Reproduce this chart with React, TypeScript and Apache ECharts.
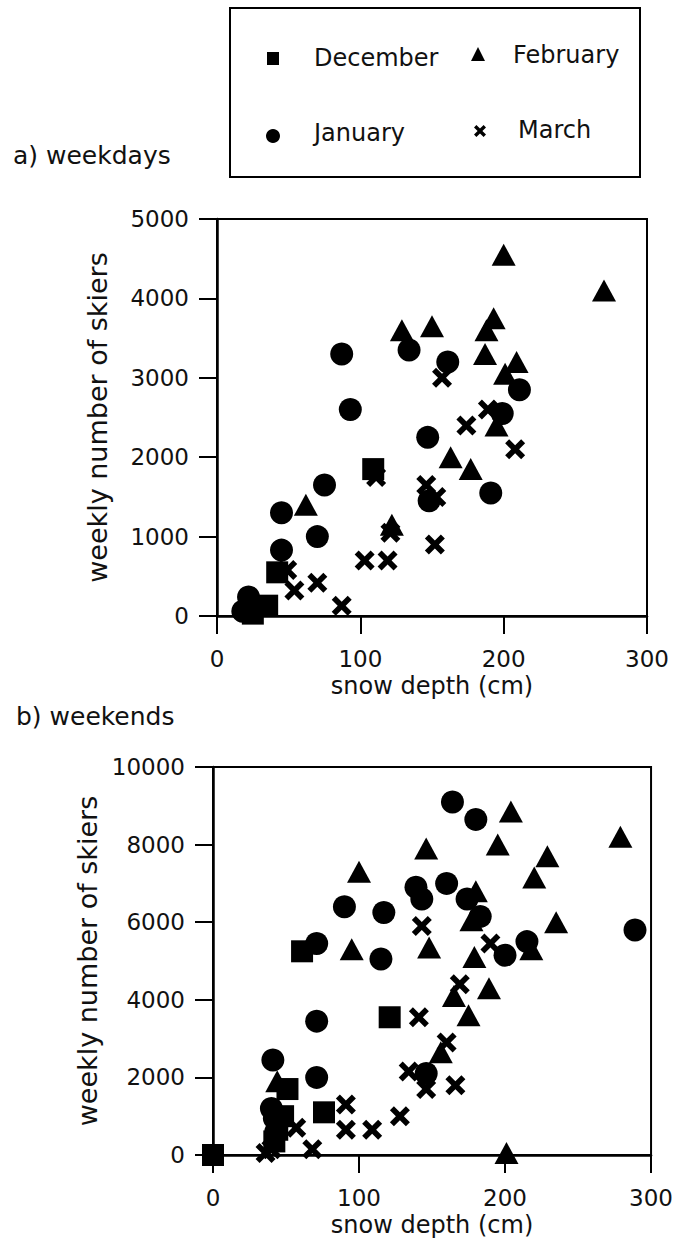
import React, { useEffect, useRef } from "react";
import * as echarts from "echarts";

// ---- tick labels / categories ----
const xTicks = [0, 100, 200, 300];
const weekdayTicks = [0, 1000, 2000, 3000, 4000, 5000];
const weekendTicks = [0, 2000, 4000, 6000, 8000, 10000];
const months = ["December", "January", "February", "March"];

// ---- a) weekdays: [snow depth (cm), weekly number of skiers] ----
const decWeekdays = [[25, 30], [35, 130], [42, 550], [109, 1850]];
const janWeekdays = [
  [18, 60], [22, 240], [45, 830], [45, 1300], [70, 1000], [75, 1650], [87, 3300],
  [93, 2600], [134, 3350], [147, 2250], [148, 1450], [161, 3200], [191, 1550],
  [199, 2550], [211, 2850],
];
const febWeekdays = [
  [62, 1400], [122, 1150], [129, 3600], [150, 3650], [188, 3600], [193, 3750],
  [187, 3300], [209, 3200], [201, 3050], [195, 2400], [163, 2000], [177, 1850],
  [200, 4550], [270, 4100],
];
const marWeekdays = [
  [49, 580], [54, 320], [70, 420], [87, 130], [111, 1750], [103, 700], [119, 700],
  [121, 1050], [157, 3000], [189, 2600], [174, 2400], [208, 2100], [146, 1650],
  [153, 1500], [152, 900],
];

// ---- b) weekends ----
const decWeekends = [[0, 0], [42, 350], [44, 650], [48, 1000], [51, 1700], [76, 1100], [121, 3550], [61, 5250]];
const janWeekends = [
  [41, 2450], [40, 1200], [42, 950], [43, 600], [71, 2000], [71, 3450], [71, 5450],
  [90, 6400], [117, 6250], [115, 5050], [139, 6900], [143, 6600], [146, 2100],
  [160, 7000], [164, 9100], [180, 8650], [174, 6600], [183, 6150], [215, 5500],
  [200, 5150], [289, 5800],
];
const febWeekends = [
  [44, 1900], [95, 5300], [100, 7300], [146, 7900], [148, 5350], [156, 2650],
  [165, 4100], [175, 3600], [189, 4300], [179, 5100], [177, 6050], [180, 6800],
  [195, 8000], [204, 8850], [220, 7150], [229, 7700], [218, 5300], [235, 6000],
  [279, 8200], [201, 50],
];
const marWeekends = [
  [36, 50], [40, 150], [57, 700], [68, 150], [91, 1300], [91, 650], [109, 650],
  [128, 1000], [134, 2150], [146, 1700], [166, 1800], [160, 2900], [141, 3550],
  [143, 5900], [190, 5450], [169, 4400],
];

const FONT = "DejaVu Sans";
const INK = "#111";
const CROSS = "path://M20,0L50,30L80,0L100,20L70,50L100,80L80,100L50,70L20,100L0,80L30,50L0,20Z";

const symbols: Record<string, { symbol: string; size: number | number[] }> = {
  December: { symbol: "rect", size: 22 },
  January: { symbol: "circle", size: 23 },
  February: { symbol: "triangle", size: [24, 22] },
  March: { symbol: CROSS, size: 20 },
};

function crossPoints(cx: number, cy: number, s: number): number[][] {
  const t = [[20, 0], [50, 30], [80, 0], [100, 20], [70, 50], [100, 80], [80, 100], [50, 70], [20, 100], [0, 80], [30, 50], [0, 20]];
  return t.map(([x, y]) => [cx - s / 2 + (x / 100) * s, cy - s / 2 + (y / 100) * s]);
}

export default function App() {
  const ref = useRef<HTMLDivElement>(null);
  useEffect(() => {
    if (!ref.current) return;
    const chart = echarts.init(ref.current, undefined, { renderer: "svg" });

    const labelStyle = { fontFamily: FONT, fontSize: 23, color: INK, formatter: (v: number) => String(v) };
    const nameStyle = { fontFamily: FONT, fontSize: 24, color: INK };
    const axisLine = { show: true, onZero: false, lineStyle: { color: "#000", width: 2.5 } };
    const axisTick = { show: true, inside: false, length: 18, lineStyle: { color: "#000", width: 2 } };

    const mkX = (gridIndex: number, gap: number) => ({
      gridIndex,
      type: "value",
      min: xTicks[0],
      max: xTicks[xTicks.length - 1],
      interval: 100,
      name: "snow depth (cm)",
      nameLocation: "middle",
      nameGap: gap,
      nameTextStyle: nameStyle,
      axisLine,
      axisTick,
      splitLine: { show: false },
      axisLabel: { ...labelStyle, margin: 31 },
    });
    const mkY = (gridIndex: number, ticks: number[], interval: number) => ({
      gridIndex,
      type: "value",
      min: ticks[0],
      max: ticks[ticks.length - 1],
      interval,
      name: "weekly number of skiers",
      nameLocation: "middle",
      nameGap: 106,
      nameTextStyle: { ...nameStyle, fontSize: 27 },
      axisLine,
      axisTick,
      splitLine: { show: false },
      axisLabel: { ...labelStyle, margin: 28 },
    });

    const panels = [
      [decWeekdays, janWeekdays, febWeekdays, marWeekdays],
      [decWeekends, janWeekends, febWeekends, marWeekends],
    ];
    const series: any[] = [];
    panels.forEach((sets, p) => {
      sets.forEach((data, i) => {
        const m = months[i];
        series.push({
          type: "scatter",
          name: m,
          xAxisIndex: p,
          yAxisIndex: p,
          data,
          symbol: symbols[m].symbol,
          symbolSize: symbols[m].size,
          itemStyle: { color: "#000", opacity: 1 },
          emphasis: { disabled: true },
        });
      });
    });

    const legendText = (text: string, x: number, y: number) => ({
      type: "text",
      x,
      y,
      style: { text, fontFamily: FONT, fontSize: 24, fill: INK, verticalAlign: "middle", align: "left" },
    });

    chart.setOption({
      animation: false,
      backgroundColor: "#fff",
      title: [
        { text: "a) weekdays", left: 13, top: 143, padding: 0, textStyle: { fontFamily: FONT, fontSize: 25, fontWeight: "normal", color: INK } },
        { text: "b) weekends", left: 16, top: 704, padding: 0, textStyle: { fontFamily: FONT, fontSize: 25, fontWeight: "normal", color: INK } },
      ],
      grid: [
        { left: 217, top: 219, width: 430, height: 397, show: true, borderColor: "#000", borderWidth: 2, backgroundColor: "transparent" },
        { left: 213, top: 767, width: 439, height: 388, show: true, borderColor: "#000", borderWidth: 2, backgroundColor: "transparent" },
      ],
      xAxis: [mkX(0, 58), mkX(1, 58)],
      yAxis: [mkY(0, weekdayTicks, 1000), mkY(1, weekendTicks, 2000)],
      series,
      graphic: [
        { type: "rect", shape: { x: 230, y: 8, width: 410, height: 169 }, style: { fill: "none", stroke: "#000", lineWidth: 2 } },
        { type: "rect", shape: { x: 267, y: 52, width: 12, height: 13 }, style: { fill: "#000" } },
        legendText(months[0], 314, 58),
        { type: "polygon", shape: { points: [[478, 47], [485, 61], [471, 61]] }, style: { fill: "#000" } },
        legendText(months[2], 513, 55),
        { type: "circle", shape: { cx: 273, cy: 136, r: 7 }, style: { fill: "#000" } },
        legendText(months[1], 314, 133),
        { type: "polygon", shape: { points: crossPoints(480, 131, 12) }, style: { fill: "#000" } },
        legendText(months[3], 518, 130),
      ],
    });
    return () => chart.dispose();
  }, []);
  return <div ref={ref} style={{ position: "absolute", left: 0, top: 0, width: 676, height: 1247 }} />;
}
